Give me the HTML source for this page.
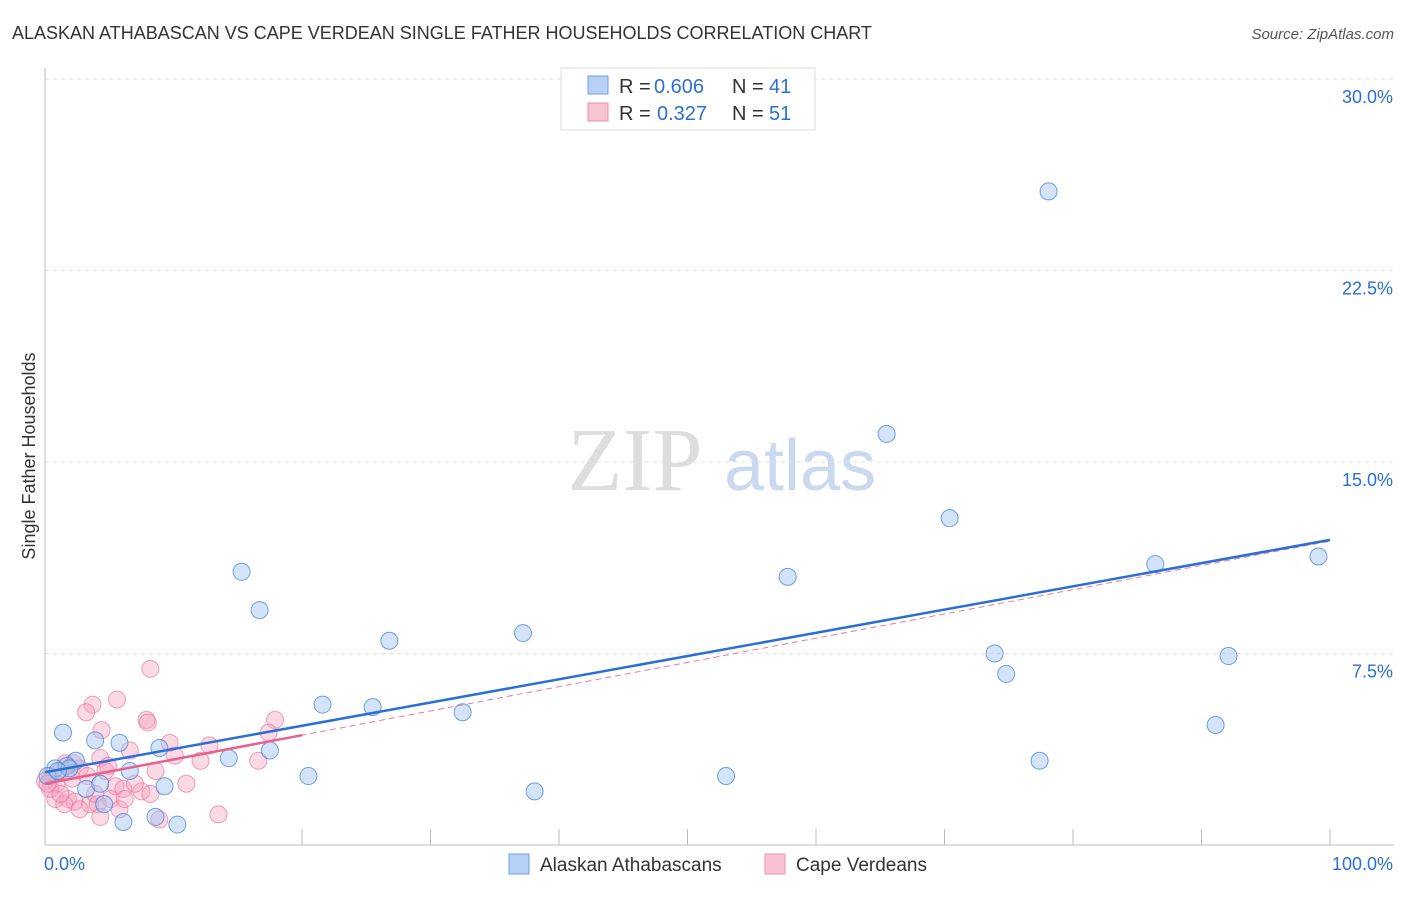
<!DOCTYPE html>
<html><head><meta charset="utf-8"><style>
body{margin:0;background:#fff;font-family:"Liberation Sans",sans-serif;}
</style></head><body>
<svg id="chart" width="1406" height="892" xmlns="http://www.w3.org/2000/svg" font-family="Liberation Sans, sans-serif">
<text x="12" y="39" font-size="18" fill="#333">ALASKAN ATHABASCAN VS CAPE VERDEAN SINGLE FATHER HOUSEHOLDS CORRELATION CHART</text>
<text x="1394" y="39" font-size="15" fill="#555" font-style="italic" text-anchor="end">Source: ZipAtlas.com</text>
<text x="35" y="456" font-size="18" fill="#333" text-anchor="middle" transform="rotate(-90 35 456)">Single Father Households</text>
<g><text x="635" y="490" font-size="90" font-family="Liberation Serif, serif" fill="#ddd" text-anchor="middle">ZIP</text><text x="800" y="490" font-size="72" fill="#c9daf0" text-anchor="middle">atlas</text></g>
<g id="grid"></g><g id="axes"></g><g id="marks"></g>
<g>
<rect x="561" y="68" width="254" height="62" fill="#fff" stroke="#ddd"/>
<rect x="588" y="76" width="20" height="18" fill="#b7d0f5" stroke="#6f9fe0"/>
<text x="619" y="93" font-size="20" fill="#333">R =</text>
<text x="654" y="93" font-size="20" fill="#2b6fd6">0.606</text>
<text x="732" y="93" font-size="20" fill="#333">N =</text>
<text x="769" y="93" font-size="20" fill="#2b6fd6">41</text>
<rect x="588" y="103" width="20" height="18" fill="#f8c3d3" stroke="#ec8fae"/>
<text x="619" y="120" font-size="20" fill="#333">R =</text>
<text x="657" y="120" font-size="20" fill="#2b6fd6">0.327</text>
<text x="732" y="120" font-size="20" fill="#333">N =</text>
<text x="769" y="120" font-size="20" fill="#2b6fd6">51</text>
</g>
<g>
<rect x="509" y="854" width="20" height="20" fill="#b7d0f5" stroke="#6f9fe0"/>
<text x="540" y="871" font-size="19" fill="#333">Alaskan Athabascans</text>
<rect x="765" y="854" width="20" height="20" fill="#f8c3d3" stroke="#ec8fae"/>
<text x="796" y="871" font-size="19" fill="#333">Cape Verdeans</text>
</g>
</svg>
<script>
const yTicks=[7.5,15,22.5,30];
const yTickLabels=["7.5%","15.0%","22.5%","30.0%"];
const xTicks=[20,30,40,50,60,70,80,90,100];
const blueX=[78.1,65.5,70.4,99.1,86.4,15.3,57.8,16.7,37.2,26.8,73.9,92.1,74.8,21.6,25.5,32.5,91.1,1.4,3.9,5.8,8.9,17.5,14.3,2.4,77.4,0.8,6.6,1.7,20.5,53.0,9.3,3.2,38.1,4.6,6.1,8.6,10.3,0.2,4.3,1.9,1.0];
const blueY=[25.6,16.1,12.8,11.3,11.0,10.7,10.5,9.2,8.3,8.0,7.5,7.4,6.7,5.5,5.4,5.2,4.7,4.4,4.1,4.0,3.8,3.7,3.4,3.3,3.3,3.0,2.9,3.1,2.7,2.7,2.3,2.2,2.1,1.6,0.9,1.1,0.8,2.7,2.4,3.0,2.9];
const pinkX=[8.2,5.6,3.7,3.2,7.9,8.0,17.9,4.4,17.4,9.7,12.8,6.6,10.1,4.3,12.1,16.6,1.6,4.9,2.2,8.6,1.2,2.7,0.4,0.0,0.9,5.5,6.1,11.0,7.5,0.8,1.8,2.3,3.5,5.1,1.5,4.1,5.8,8.9,13.5,4.3,0.4,2.1,3.3,4.7,0.2,1.2,2.7,3.9,6.2,7.0,8.2];
const pinkY=[6.9,5.7,5.5,5.2,4.9,4.8,4.9,4.5,4.4,4.0,3.9,3.7,3.5,3.4,3.3,3.3,3.2,3.1,3.2,2.9,2.9,3.0,2.7,2.5,2.4,2.3,2.2,2.4,2.1,1.8,1.8,1.7,1.6,1.8,1.6,1.6,1.4,1.0,1.2,1.1,2.2,2.6,2.7,2.9,2.4,2.0,1.4,2.0,1.8,2.4,2.0];
const blueTrend=[2.85,11.95];
const pinkTrend=[2.4,11.9];
const pinkSolidEnd=20;
const NS="http://www.w3.org/2000/svg";
const X0=45,X1=1330,Y0=845,Y30=79;
function sx(v){return X0+(X1-X0)*v/100;}
function sy(v){return Y0-(Y0-Y30)*v/30;}
function mk(tag,attrs,parent){const e=document.createElementNS(NS,tag);for(const k in attrs)e.setAttribute(k,attrs[k]);parent.appendChild(e);return e;}
const grid=document.getElementById('grid'),axes=document.getElementById('axes'),marks=document.getElementById('marks');
yTicks.forEach((t,i)=>{
 const l=mk('line',{x1:X0,x2:1394,y1:sy(t),y2:sy(t),stroke:'#e0e0e0','stroke-dasharray':'4,4'},grid);
 
 
 const tx=mk('text',{x:1393,y:sy(t)+24,'font-size':18,fill:'#2b6fd6','text-anchor':'end'},grid);
 tx.textContent=yTickLabels[i];
 
 
});
const ax=mk('line',{x1:X0,x2:X0,y1:68,y2:Y0,stroke:'#bbb'},axes);


const bx=mk('line',{x1:X0,x2:1394,y1:Y0,y2:Y0,stroke:'#bbb'},axes);


xTicks.forEach(t=>{const l=mk('line',{x1:sx(t),x2:sx(t),y1:Y0-16,y2:Y0,stroke:'#bbb'},axes);
 
 });
const xl0=mk('text',{x:44,y:870,'font-size':18,fill:'#2b6fd6'},axes);xl0.textContent='0.0%';


const xl1=mk('text',{x:1393,y:870,'font-size':18,fill:'#2b6fd6','text-anchor':'end'},axes);xl1.textContent='100.0%';


pinkX.forEach((x,i)=>{const c=mk('circle',{cx:sx(x),cy:sy(pinkY[i]),r:8.5,fill:'rgba(245,160,190,0.4)',stroke:'rgba(232,120,160,0.7)','stroke-width':1},marks);
 
 });
blueX.forEach((x,i)=>{const c=mk('circle',{cx:sx(x),cy:sy(blueY[i]),r:8.5,fill:'rgba(160,195,240,0.45)',stroke:'rgba(70,130,215,0.75)','stroke-width':1},marks);
 
 });
const pd=mk('line',{x1:sx(0),y1:sy(pinkTrend[0]),x2:sx(100),y2:sy(pinkTrend[1]),stroke:'#e87aa0','stroke-width':1,'stroke-dasharray':'6,4'},marks);


const bl=mk('line',{x1:sx(0),y1:sy(blueTrend[0]),x2:sx(100),y2:sy(blueTrend[1]),stroke:'#2b6fd6','stroke-width':2.5},marks);


const ps=mk('line',{x1:sx(0),y1:sy(pinkTrend[0]),x2:sx(pinkSolidEnd),y2:sy(pinkTrend[0]+(pinkTrend[1]-pinkTrend[0])*pinkSolidEnd/100),stroke:'#e8608e','stroke-width':2.5},marks);


</script>
</body></html>
